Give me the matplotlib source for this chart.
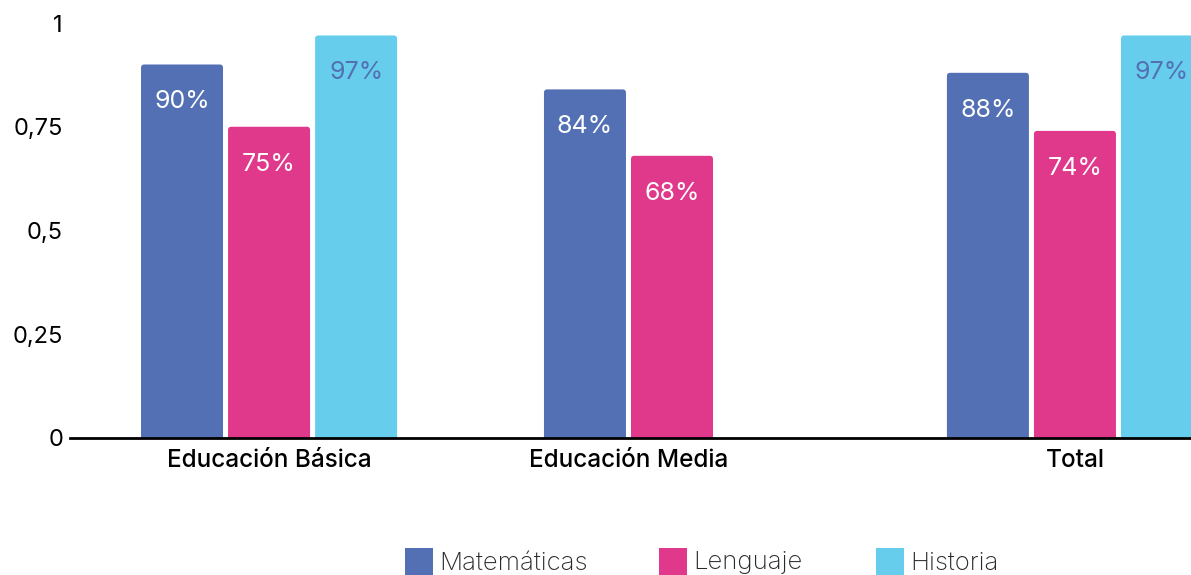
import matplotlib.pyplot as plt
from matplotlib.patches import FancyBboxPatch, Rectangle

# data
groups = ['Educación Básica', 'Educación Media', 'Total']
series = ['Matemáticas', 'Lenguaje', 'Historia']
matematicas = [0.90, 0.84, 0.88]
lenguaje = [0.75, 0.68, 0.74]
historia = [0.97, None, 0.97]
yticks = [0, 0.25, 0.5, 0.75, 1]
ytick_labels = ['0', '0,25', '0,5', '0,75', '1']

COLORS = ['#5270B3', '#E0388A', '#66CEEC']
LABEL_COLORS = ['white', 'white', '#5270B3']

plt.rcParams['font.family'] = ['Inter', 'DejaVu Sans']

fig = plt.figure(figsize=(11.91, 5.75), dpi=100)
ax = fig.add_axes([70 / 1191, 137 / 575, 1 - 70 / 1191, 415 / 575])

width = 0.2035
step = 0.216
values = [matematicas, lenguaje, historia]
centers = []
for g in range(len(groups)):
    xs = []
    for s, vals in enumerate(values):
        v = vals[g]
        if v is None:
            continue
        x = g + (s - 1) * step
        xs.append(x)
        box = FancyBboxPatch((x - width / 2, -0.05), width, v + 0.05,
                             boxstyle='round,pad=0,rounding_size=0.008',
                             facecolor=COLORS[s], edgecolor='none', zorder=2)
        ax.add_patch(box)
        ax.annotate('%d%%' % round(v * 100), (x, v), xytext=(0, -27),
                    textcoords='offset points', ha='center', va='center',
                    color=LABEL_COLORS[s], fontsize=18, zorder=3)
    centers.append((min(xs) + max(xs)) / 2)

ax.set_xlim(-0.494, 2.288)
ax.set_ylim(0, 1)
ax.set_yticks(yticks)
ax.set_yticklabels(ytick_labels, fontsize=17)
ax.set_xticks(centers)
ax.set_xticklabels(groups, fontsize=17.5, fontweight='medium')
ax.tick_params(axis='both', length=0)
ax.tick_params(axis='y', pad=5)
ax.tick_params(axis='x', pad=8)
for side in ['left', 'right', 'top']:
    ax.spines[side].set_visible(False)
ax.spines['bottom'].set_linewidth(2)
ax.spines['bottom'].set_color('black')
ax.spines['bottom'].set_zorder(4)

# legend along the bottom edge
legend_x = [405, 659, 876]
for name, col, lx in zip(series, COLORS, legend_x):
    fig.patches.append(Rectangle((lx / 1191, -3 / 575), 28 / 1191, 30 / 575,
                                 transform=fig.transFigure, facecolor=col,
                                 edgecolor='none'))
    fig.text((lx + 34) / 1191, 12 / 575, name, fontsize=18.5, color='#2a2a2a',
             fontweight='light', va='center', ha='left')

fig.savefig('out.png', dpi=100)
